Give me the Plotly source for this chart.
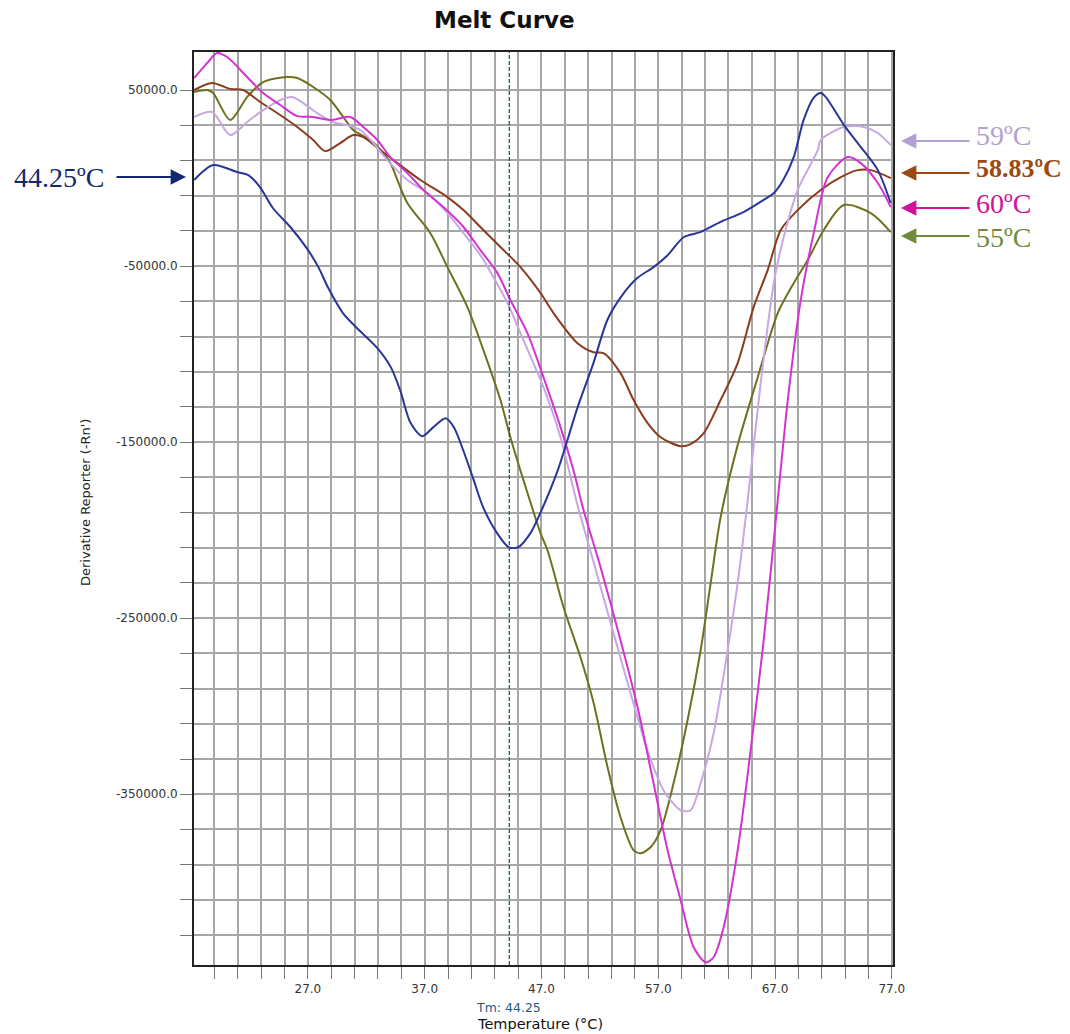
import plotly.graph_objects as go

# ---------------- data ----------------
tm_value = 44.25

temp_4425 = [17.26, 18.9, 20.95, 21.9, 22.9, 24.0, 25.5, 26.9, 27.9, 28.75, 30.0, 31.2, 32.95, 34.1, 34.9,
             35.8, 36.8, 37.75, 38.8, 39.5, 40.3, 41.2, 42.0, 43.2, 44.2, 45.0, 46.06, 46.9, 48.4, 50.1,
             51.45, 52.65, 53.8, 55.2, 56.6, 57.8, 59.2, 60.6, 62.3, 64.3, 66.0, 66.9, 67.7, 68.6, 69.45,
             70.3, 70.9, 71.35, 72.9, 74.35, 75.8, 76.9]
deriv_4425 = [-1100, 7400, 3400, 1700, -5100, -17000, -27800, -39800, -50600, -62500, -76700, -85200,
              -96600, -107400, -120500, -139200, -146600, -141500, -136400, -141500, -154600, -171600,
              -186900, -201700, -209700, -209700, -201700, -190300, -165900, -130100, -105100, -80500,
              -67600, -56800, -50600, -43800, -33500, -30700, -25000, -19300, -12500, -8500, -1100, 11900,
              33000, 45500, 48300, 46000, 30100, 17600, 4500, -14200]

temp_60 = [17.26, 18.37, 19.23, 20.09, 21.8, 23.17, 24.63, 26.09, 27.46, 28.92, 30.63, 31.74, 32.95, 34.06,
           35.52, 36.89, 38.6, 40.32, 41.77, 43.23, 44.34, 45.8, 47.17, 48.63, 49.74, 50.6, 52.06, 53.77,
           55.23, 56.6, 57.8, 58.92, 60.03, 61.06, 61.74, 62.6, 63.8, 64.91, 66.03, 67.23, 68.09, 69.2,
           70.31, 71.51, 73.23, 74.34, 75.8, 76.91]
deriv_60 = [56800, 65300, 71000, 68750, 57400, 48300, 41500, 35200, 34700, 33000, 34700, 29000, 21600,
            11900, 2800, -6800, -16500, -27800, -40900, -54000, -69300, -88100, -113100, -141500, -166000,
            -188500, -221000, -262500, -300600, -343800, -381800, -410200, -436900, -445500, -442600,
            -425600, -381800, -325000, -262500, -183000, -126100, -69300, -31300, 500, 11900, 8500, -2800,
            -16500]

temp_59 = [17.26, 18.8, 20.35, 21.8, 23.17, 24.63, 25.66, 26.6, 27.8, 29.17, 30.37, 31.49, 32.6, 33.8,
           35.52, 37.23, 38.95, 40.32, 41.77, 42.89, 44.09, 45.46, 47.17, 48.63, 50.09, 51.46, 53.17,
           54.63, 56.08, 57.45, 58.92, 59.77, 60.63, 61.74, 62.94, 63.8, 64.66, 65.77, 66.89, 67.74,
           68.94, 70.66, 70.91, 72.89, 74.6, 75.8, 76.91]
deriv_59 = [34700, 37500, 24400, 31800, 38600, 44300, 46000, 42600, 36900, 31800, 30100, 27300, 19900,
            10200, -1100, -8500, -19900, -31300, -43800, -56300, -71000, -92100, -118800, -147200,
            -185800, -218100, -258500, -292600, -325000, -347700, -359100, -359100, -343800, -315400,
            -268200, -230100, -183000, -116500, -59700, -33500, -6800, 15900, 21600, 29000, 29000, 25600,
            18700]

temp_5883 = [17.26, 18.8, 20.35, 21.46, 22.92, 24.63, 26.09, 27.46, 28.49, 29.77, 30.89, 31.74, 33.2,
             34.66, 36.63, 38.95, 40.32, 41.77, 43.49, 45.2, 46.92, 48.03, 50.09, 51.46, 52.31, 53.77,
             54.89, 56.09, 57.2, 58.92, 59.77, 60.89, 62.34, 63.8, 65.17, 66.37, 67.49, 68.94, 70.91,
             72.63, 74.08, 75.2, 76.91]
deriv_5883 = [50000, 54000, 50600, 50000, 43200, 35800, 29000, 21600, 15300, 19900, 24400, 23300, 15900,
              8500, -1100, -10800, -18200, -27800, -39200, -50600, -65300, -76700, -93800, -98900,
              -99400, -110800, -126100, -139200, -147200, -152300, -151100, -144900, -126100, -105100,
              -73300, -52300, -29500, -18200, -6800, 500, 4500, 4500, 0]

temp_55 = [17.26, 18.37, 18.89, 20.35, 21.8, 23.17, 25.23, 26.09, 27.46, 28.92, 30.03, 30.89, 32.34,
           33.46, 34.06, 35.52, 37.49, 38.95, 40.66, 42.03, 43.49, 44.34, 45.46, 46.92, 47.52, 48.89,
           50.34, 51.46, 52.66, 53.77, 54.89, 55.49, 56.34, 57.2, 58.31, 59.51, 60.63, 61.49, 62.34,
           63.8, 65.52, 67.23, 68.6, 69.8, 71.17, 72.89, 75.2, 76.91]
deriv_55 = [48900, 50000, 48300, 33000, 46000, 54500, 57400, 56800, 51700, 44300, 34700, 27300, 21600,
            14200, 8500, -14200, -31300, -50600, -73300, -97700, -126100, -147200, -171600, -201700,
            -211400, -243800, -272200, -298000, -334700, -363100, -381800, -383500, -380100, -370500,
            -343800, -308000, -268200, -230100, -192600, -151700, -113100, -76700, -59700, -46600,
            -29500, -15300, -19900, -30700]

series_labels = ["59ºC", "58.83ºC", "60ºC", "55ºC"]

x_grid_vals = list(range(19, 78, 2))
x_label_vals = [27, 37, 47, 57, 67, 77]
y_grid_vals = list(range(-430000, 50001, 20000))
y_label_vals = [50000, -50000, -150000, -250000, -350000]

for a, b in [(temp_4425, deriv_4425), (temp_60, deriv_60), (temp_59, deriv_59),
             (temp_5883, deriv_5883), (temp_55, deriv_55)]:
    assert len(a) == len(b)

# ---------------- layout geometry ----------------
W, H = 1070, 1034
L, R, T, B = 194, 893, 52, 965


def px(xp):
    return (xp - L) / (R - L)


def py(yp):
    return (B - yp) / (B - T)


fig = go.Figure()

curves = [
    (temp_55, deriv_55, "#707020"),
    (temp_5883, deriv_5883, "#8b3c1c"),
    (temp_59, deriv_59, "#c6a8e2"),
    (temp_60, deriv_60, "#d433d2"),
    (temp_4425, deriv_4425, "#2a3598"),
]
for xs, ys, col in curves:
    fig.add_trace(go.Scatter(x=xs, y=ys, mode="lines",
                             line=dict(color=col, width=2, shape="spline", smoothing=0.8),
                             showlegend=False, hoverinfo="skip"))

tick_font = dict(family="DejaVu Sans", size=12, color="#333333")
grid_col = "#a6a6a6"

fig.update_xaxes(range=[17.25, 77.1], tickmode="array", tickvals=x_grid_vals,
                 ticktext=[f"{v:.1f}" if v in x_label_vals else "" for v in x_grid_vals],
                 showgrid=True, gridcolor=grid_col, gridwidth=1.5,
                 ticks="outside", ticklen=12, tickcolor="#777777", tickwidth=1,
                 showline=True, linecolor="#222222", linewidth=2, mirror=True,
                 zeroline=False, tickfont=tick_font)
fig.update_yaxes(range=[-447000, 71600], tickmode="array", tickvals=y_grid_vals,
                 ticktext=[f"{v:.1f}" if v in y_label_vals else "" for v in y_grid_vals],
                 showgrid=True, gridcolor=grid_col, gridwidth=1.5,
                 ticks="outside", ticklen=12, tickcolor="#777777", tickwidth=1,
                 showline=True, linecolor="#222222", linewidth=2, mirror=True,
                 zeroline=False, tickfont=tick_font)

# Tm dashed line
fig.add_shape(type="line", xref="x", yref="paper", x0=tm_value, x1=tm_value, y0=0, y1=1,
              line=dict(color="#1a5f7a", width=1.3, dash="4px,2px"), layer="above")

ann = []
# Title
ann.append(dict(text="<b>Melt Curve</b>", xref="paper", yref="paper", x=px(504), y=py(20),
                showarrow=False, font=dict(family="DejaVu Sans", size=23, color="#111111"),
                xanchor="center", yanchor="middle"))
# Axis titles
ann.append(dict(text="Derivative Reporter (-Rn')", xref="paper", yref="paper", x=px(85), y=py(503),
                textangle=-90, showarrow=False, font=dict(family="DejaVu Sans", size=13, color="#222222"),
                xanchor="center", yanchor="middle"))
ann.append(dict(text="Temperature (°C)", xref="paper", yref="paper", x=px(540), y=py(1024),
                showarrow=False, font=dict(family="DejaVu Sans", size=14.5, color="#111111"),
                xanchor="center", yanchor="middle"))
ann.append(dict(text=f"Tm: {tm_value:.2f}", xref="paper", yref="paper", x=px(508), y=py(1008),
                showarrow=False, font=dict(family="DejaVu Sans", size=12.5, color="#1f5a8a"),
                xanchor="center", yanchor="middle"))

serif = "Liberation Serif"
# Left label + arrow
ann.append(dict(text=f"{tm_value:.2f}ºC", xref="paper", yref="paper", x=px(106), y=py(177),
                showarrow=False, font=dict(family=serif, size=28, color="#14286e"),
                xanchor="right", yanchor="middle"))
ann.append(dict(text="", xref="paper", yref="paper", x=px(186), y=py(177), ax=-71, ay=0,
                showarrow=True, arrowhead=2, arrowsize=1.4, arrowwidth=2.2, arrowcolor="#14286e"))

# Right labels + arrows
right_items = [
    (series_labels[0], 135, 141, "#b3a0d2", False),
    (series_labels[1], 168, 173, "#9c4a12", True),
    (series_labels[2], 203, 208, "#d2129a", False),
    (series_labels[3], 237, 236, "#6e8c3c", False),
]
for label, ty, ay_, col, bold in right_items:
    txt = f"<b>{label}</b>" if bold else label
    ann.append(dict(text=txt, xref="paper", yref="paper", x=px(974), y=py(ty),
                    showarrow=False, font=dict(family=serif, size=26 if bold else 28, color=col),
                    xanchor="left", yanchor="middle"))
    ann.append(dict(text="", xref="paper", yref="paper", x=px(901), y=py(ay_), ax=70, ay=0,
                    showarrow=True, arrowhead=2, arrowsize=1.4, arrowwidth=2.2, arrowcolor=col))

fig.update_layout(width=W, height=H, margin=dict(l=L, r=W - R, t=T, b=H - B),
                  paper_bgcolor="white", plot_bgcolor="white", annotations=ann,
                  showlegend=False)

fig.write_html("out.html")
